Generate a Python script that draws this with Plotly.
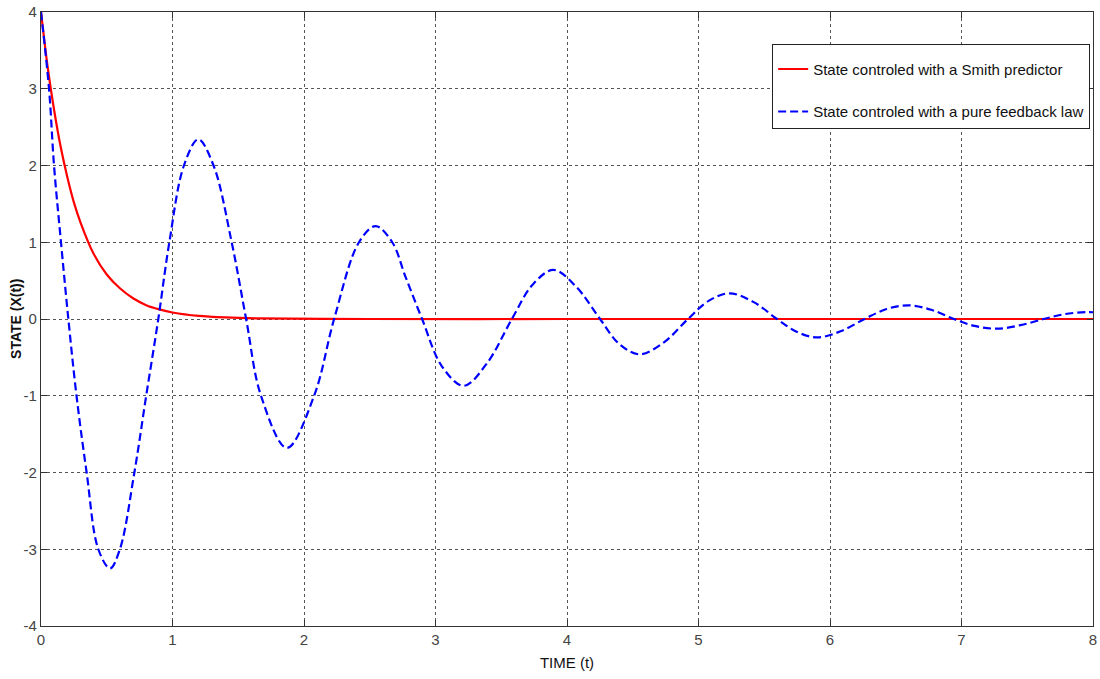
import plotly.graph_objects as go

# Smith predictor controlled state
t_smith = [0, 0.05, 0.1, 0.15, 0.2, 0.25, 0.3, 0.4, 0.5, 0.6, 0.7, 0.8, 0.9, 1.0, 1.2, 1.4, 1.65, 2.5, 4.0, 6.0, 8.0]
x_smith = [4, 3.29, 2.72, 2.24, 1.85, 1.52, 1.26, 0.85, 0.58, 0.40, 0.27, 0.18, 0.125, 0.085, 0.04, 0.02, 0.008, 0, 0, 0, 0]

# Pure feedback law controlled state
t_fb = [0, 0.061, 0.099, 0.152, 0.208, 0.27, 0.347, 0.436, 0.525, 0.60, 0.71, 0.80, 0.892, 0.976,
        1.087, 1.196, 1.312, 1.45, 1.56, 1.673, 1.87, 2.077, 2.229, 2.418, 2.545, 2.671, 2.772, 2.898,
        3.05, 3.215, 3.39, 3.581, 3.74, 3.897, 4.07, 4.251, 4.40, 4.554, 4.74, 4.92, 5.08, 5.236, 5.42,
        5.597, 5.75, 5.906, 6.08, 6.263, 6.43, 6.6, 6.77, 6.942, 7.10, 7.271, 7.45, 7.625, 7.79, 7.95, 8.0]
x_fb = [4, 3, 2, 1, 0, -1, -2, -3, -3.25, -3, -2, -1, 0, 1,
        2, 2.34, 2, 1, 0, -1, -1.68, -1, 0, 1, 1.21, 1, 0.55, 0,
        -0.62, -0.87, -0.58, 0, 0.45, 0.64, 0.42, 0, -0.33, -0.46, -0.3, 0, 0.24, 0.335, 0.22,
        0, -0.17, -0.24, -0.16, 0, 0.13, 0.178, 0.12, 0, -0.09, -0.126, -0.08, 0, 0.065, 0.09, 0.088]

x_ticks = [0, 1, 2, 3, 4, 5, 6, 7, 8]
y_ticks = [-4, -3, -2, -1, 0, 1, 2, 3, 4]

font_main = "Liberation Sans, Arial, sans-serif"

fig = go.Figure()
fig.add_trace(go.Scatter(
    x=t_smith, y=x_smith, mode="lines", name="State controled with a Smith predictor",
    line=dict(color="#ff0000", width=2.2, shape="spline", smoothing=0.8), legendgroup="a"))
fig.add_trace(go.Scatter(
    x=t_fb, y=x_fb, mode="lines", name="State controled with a pure feedback law",
    line=dict(color="#0000ff", width=2.2, dash="8px,4px", shape="spline", smoothing=1.0),
    legendgroup="b"))

axis_common = dict(
    showline=True, linecolor="#333333", linewidth=1.2, mirror="ticks",
    ticks="inside", ticklen=6, tickcolor="#333333", tickwidth=1.2,
    showgrid=True, gridcolor="#555555", griddash="dot", gridwidth=1,
    zeroline=False, automargin=False,
    tickfont=dict(family=font_main, size=15, color="#444444"),
)

fig.update_layout(
    width=1100, height=679,
    paper_bgcolor="white", plot_bgcolor="white",
    margin=dict(l=41, r=7, t=12, b=53, autoexpand=False),
    xaxis=dict(range=[0, 8], tickvals=x_ticks, ticktext=[str(v) for v in x_ticks],
               title=dict(text="TIME (t)", font=dict(family=font_main, size=15, color="#111111"), standoff=10),
               **axis_common),
    yaxis=dict(range=[-4, 4], tickvals=y_ticks, ticktext=[str(v) for v in y_ticks],
               **axis_common),
    annotations=[dict(text="<b>STATE (X(t))</b>", textangle=-90, xref="paper", yref="paper",
                      x=-0.0238, y=0.5, xanchor="center", yanchor="middle", showarrow=False,
                      font=dict(family=font_main, size=14, color="#111111"))],
    legend=dict(x=0.695, y=0.948, xanchor="left", yanchor="top",
                bgcolor="white", bordercolor="#222222", borderwidth=1,
                font=dict(family=font_main, size=15, color="#111111"),
                title=dict(text=" ", font=dict(size=6)),
                tracegroupgap=20, traceorder="grouped", itemwidth=30),
    showlegend=True,
)

fig.write_html("out.html", config={"displayModeBar": False},
               post_script="document.body.style.margin='0';")
